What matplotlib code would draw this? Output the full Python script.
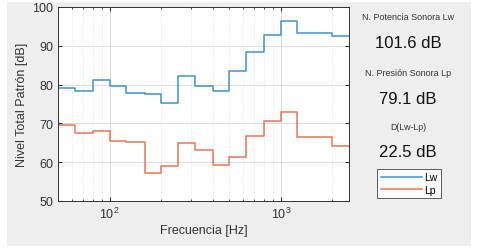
import numpy as np
import matplotlib.pyplot as plt
from matplotlib.patches import Rectangle

freqs = [50, 63, 80, 100, 125, 160, 200, 250, 315, 400, 500, 630, 800, 1000, 1250, 1600, 2000, 2500]
Lw = [79.2, 78.4, 81.2, 79.6, 77.8, 77.6, 75.2, 82.3, 79.6, 78.4, 83.6, 88.3, 92.9, 96.3, 93.2, 93.2, 92.4, 92.4]
Lp = [69.6, 67.4, 68.0, 65.4, 65.1, 57.2, 58.9, 64.9, 63.2, 59.3, 61.4, 66.8, 70.5, 72.9, 66.6, 66.6, 64.3, 64.3]

labels = ['N. Potencia Sonora Lw', 'N. Presión Sonora Lp', 'D(Lw-Lp)']
values = ['101.6 dB', '79.1 dB', '22.5 dB']

plt.rcParams['font.family'] = ['Liberation Sans', 'DejaVu Sans']

fig = plt.figure(figsize=(4.8, 2.53), dpi=100)
fig.patch.set_facecolor('white')
fig.patches.append(Rectangle((7/480, 1-247/253), 464/480, 244/253, transform=fig.transFigure,
                             facecolor='#eeeeee', edgecolor='none', zorder=-10))

ax = fig.add_axes([58/480, 1-202/253, 291/480, 194/253])
ax.step(freqs, Lw, where='post', color='#3f93c8', linewidth=1.1, label='Lw')
ax.step(freqs, Lp, where='post', color='#e67552', linewidth=1.1, label='Lp')

ax.set_xscale('log')
ax.set_xlim(50, 2500)
ax.set_ylim(50, 100)
ax.set_yticks([50, 60, 70, 80, 90, 100])
ax.grid(True, which='major', color='#d8d8d8', linewidth=0.6)
ax.grid(True, which='minor', axis='x', color='#dddddd', linestyle=':', linewidth=0.6)
ax.tick_params(which='both', direction='in', top=True, right=True, colors='#333333', labelsize=9)
ax.tick_params(which='major', length=3)
ax.tick_params(which='minor', length=1.5)
for s in ax.spines.values():
    s.set_color('#333333')
    s.set_linewidth(0.7)

ax.set_xlabel('Frecuencia [Hz]', fontsize=9, color='#333333', labelpad=2)
ax.set_ylabel('Nivel Total Patrón [dB]', fontsize=9, color='#333333', labelpad=3)

cx = 408/480
ys = [18, 74, 128]
yv = [43, 100, 153]
sizes = [6.5, 6.5, 6.3]
for lab, val, y1, y2, fs in zip(labels, values, ys, yv, sizes):
    fig.text(cx, 1-y1/253, lab, ha='center', va='center', fontsize=fs, color='#333333')
    fig.text(cx, 1-y2/253, val, ha='center', va='center', fontsize=12, color='#111111')

lg = fig.legend(loc='center', bbox_to_anchor=(409/480, 1-184.5/253), fontsize=7.5, frameon=True,
                fancybox=False, handlelength=4, handletextpad=0.2, borderpad=0.3,
                labelspacing=0.2)
lg.get_frame().set_edgecolor('#333333')
lg.get_frame().set_linewidth(0.7)

fig.savefig('out.png', dpi=100, facecolor=fig.get_facecolor())
